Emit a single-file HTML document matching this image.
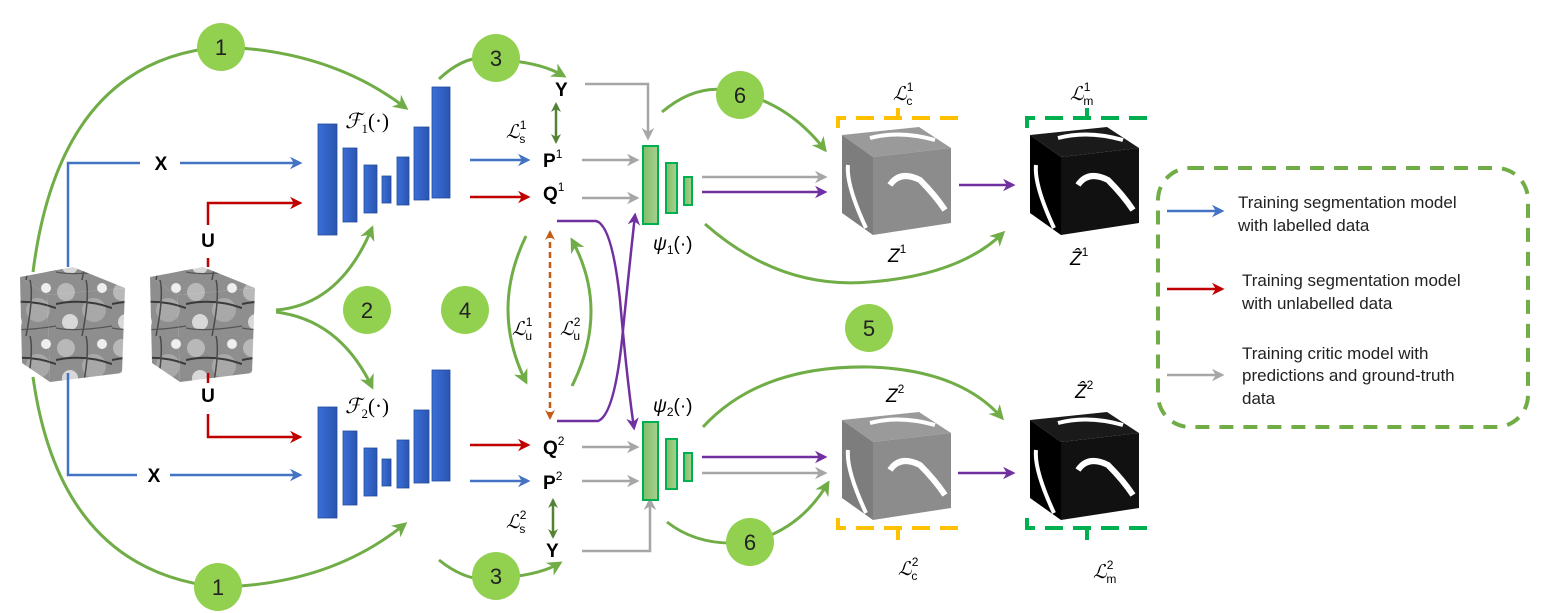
<!DOCTYPE html>
<html><head><meta charset="utf-8"><style>
html,body{margin:0;padding:0;background:#fff;}
svg{display:block;}
text{font-family:"Liberation Sans",sans-serif;}
.m{font-family:"Liberation Serif",serif;font-style:italic;}
</style></head><body>
<svg width="1557" height="613" viewBox="0 0 1557 613" xmlns="http://www.w3.org/2000/svg">
<defs>
<marker id="ag" viewBox="0 0 10 10" refX="8" refY="5" markerWidth="5" markerHeight="5" orient="auto-start-reverse"><path d="M0,0 L10,5 L0,10 L3,5z" fill="#70ad47"/></marker>
<marker id="adg" viewBox="0 0 10 10" refX="8" refY="5" markerWidth="4" markerHeight="4" orient="auto-start-reverse"><path d="M0,0 L10,5 L0,10 L3,5z" fill="#548235"/></marker>
<marker id="ab" viewBox="0 0 10 10" refX="8" refY="5" markerWidth="5" markerHeight="5" orient="auto"><path d="M0,0 L10,5 L0,10 L3,5z" fill="#4472c4"/></marker>
<marker id="ar" viewBox="0 0 10 10" refX="8" refY="5" markerWidth="5" markerHeight="5" orient="auto"><path d="M0,0 L10,5 L0,10 L3,5z" fill="#c00000"/></marker>
<marker id="ay" viewBox="0 0 10 10" refX="8" refY="5" markerWidth="5" markerHeight="5" orient="auto"><path d="M0,0 L10,5 L0,10 L3,5z" fill="#a6a6a6"/></marker>
<marker id="ap" viewBox="0 0 10 10" refX="8" refY="5" markerWidth="5" markerHeight="5" orient="auto"><path d="M0,0 L10,5 L0,10 L3,5z" fill="#7030a0"/></marker>
<marker id="ao" viewBox="0 0 10 10" refX="8" refY="5" markerWidth="4" markerHeight="4" orient="auto-start-reverse"><path d="M0,0 L10,5 L0,10 L3,5z" fill="#c55a11"/></marker>
<pattern id="ct" width="56" height="56" patternUnits="userSpaceOnUse">
<rect width="56" height="56" fill="#8e8e8e"/>
<circle cx="10" cy="12" r="9" fill="#b8b8b8"/><circle cx="38" cy="30" r="12" fill="#a8a8a8"/>
<circle cx="14" cy="42" r="8" fill="#d8d8d8"/><path d="M0 24 Q28 18 56 28" stroke="#3a3a3a" stroke-width="2" fill="none"/>
<path d="M30 0 Q34 16 26 56" stroke="#4a4a4a" stroke-width="1.5" fill="none"/><circle cx="46" cy="8" r="5" fill="#eee"/>
<path d="M0 48 Q20 52 56 46" stroke="#555" stroke-width="1.2" fill="none"/>
</pattern>
<linearGradient id="bb" x1="0" x2="1"><stop offset="0" stop-color="#3a6fd8"/><stop offset="1" stop-color="#2a55b0"/></linearGradient>
<linearGradient id="gg" x1="0" x2="1"><stop offset="0" stop-color="#7fbf6a"/><stop offset="1" stop-color="#a9d08e"/></linearGradient>
</defs>

<!-- CT cubes -->
<g>
<polygon points="20,277 73,267 125,288 47,295" fill="url(#ct)"/>
<polygon points="20,277 47,295 50,382 22,363" fill="url(#ct)"/>
<polygon points="47,295 125,288 122,373 50,382" fill="url(#ct)"/>
</g>
<g transform="translate(130,0)">
<polygon points="20,277 73,267 125,288 47,295" fill="url(#ct)"/>
<polygon points="20,277 47,295 50,382 22,363" fill="url(#ct)"/>
<polygon points="47,295 125,288 122,373 50,382" fill="url(#ct)"/>
</g>

<!-- green big arcs -->
<g fill="none" stroke="#70ad47" stroke-width="3">
<path d="M33,272 Q60,60 221,47 Q330,50 406,108" marker-end="url(#ag)"/>
<path d="M33,377 Q60,570 218,587 Q330,585 405,524" marker-end="url(#ag)"/>
<path d="M276,310 Q340,305 372,228" marker-end="url(#ag)"/>
<path d="M276,312 Q340,320 372,387" marker-end="url(#ag)"/>
<path d="M439,79 Q470,50 500,60 Q540,62 564,76" marker-end="url(#ag)"/>
<path d="M439,560 Q470,585 500,578 Q540,575 560,563" marker-end="url(#ag)"/>
<path d="M526,236 Q490,310 526,382" marker-end="url(#ag)"/>
<path d="M572,386 Q610,310 572,240" marker-end="url(#ag)"/>
<path d="M662,112 Q700,80 740,93 Q790,105 825,150" marker-end="url(#ag)"/>
<path d="M705,224 Q780,290 870,282 Q960,275 1003,233" marker-end="url(#ag)"/>
<path d="M703,427 Q760,365 870,367 Q960,370 1002,418" marker-end="url(#ag)"/>
<path d="M667,522 Q700,548 750,542 Q800,530 828,483" marker-end="url(#ag)"/>
</g>

<!-- blue/red input lines -->
<g fill="none" stroke-width="2.5">
<path d="M68,267 V163 H140" stroke="#4472c4"/><path d="M180,163 H300" stroke="#4472c4" marker-end="url(#ab)"/>
<path d="M68,373 V475 H137" stroke="#4472c4"/><path d="M170,475 H300" stroke="#4472c4" marker-end="url(#ab)"/>
<path d="M208,267 V258" stroke="#c00000"/><path d="M208,225 V203 H300" stroke="#c00000" marker-end="url(#ar)"/>
<path d="M208,373 V383" stroke="#c00000"/><path d="M208,414 V437 H300" stroke="#c00000" marker-end="url(#ar)"/>
<path d="M470,160 H528" stroke="#4472c4" marker-end="url(#ab)"/>
<path d="M470,197 H528" stroke="#c00000" marker-end="url(#ar)"/>
<path d="M470,445 H528" stroke="#c00000" marker-end="url(#ar)"/>
<path d="M470,481 H528" stroke="#4472c4" marker-end="url(#ab)"/>
</g>
<g font-weight="bold" font-size="19" fill="#000" text-anchor="middle">
<text x="161" y="170">X</text><text x="208" y="247">U</text>
<text x="208" y="402">U</text><text x="154" y="482">X</text>
</g>

<!-- F networks -->
<g id="F1">
<g fill="url(#bb)" stroke="#234a99" stroke-width="0.8">
<rect x="318" y="124" width="19" height="111"/><rect x="343" y="148" width="14" height="74"/>
<rect x="364" y="165" width="13" height="48"/><rect x="382" y="176" width="9" height="27"/>
<rect x="397" y="157" width="12" height="48"/><rect x="414" y="127" width="15" height="73"/>
<rect x="432" y="87" width="18" height="111"/>
</g></g>
<use href="#F1" transform="translate(0,283)"/>
<text x="345" y="128" class="m" font-size="21">ℱ<tspan font-size="13" dy="5" font-style="normal">1</tspan><tspan dy="-5" font-style="normal">(·)</tspan></text>
<text x="345" y="413" class="m" font-size="21">ℱ<tspan font-size="13" dy="5" font-style="normal">2</tspan><tspan dy="-5" font-style="normal">(·)</tspan></text>

<!-- Y P Q labels -->
<g font-weight="bold" font-size="19" fill="#000">
<text x="555" y="96">Y</text>
<text x="543" y="167">P<tspan font-size="12" font-weight="normal" dy="-9">1</tspan></text>
<text x="543" y="200">Q<tspan font-size="12" font-weight="normal" dy="-9">1</tspan></text>
<text x="543" y="454">Q<tspan font-size="12" font-weight="normal" dy="-9">2</tspan></text>
<text x="543" y="489">P<tspan font-size="12" font-weight="normal" dy="-9">2</tspan></text>
<text x="546" y="557">Y</text>
</g>
<g class="m" font-size="19" fill="#000">
<text x="506" y="138">ℒ<tspan font-size="12" font-style="normal" dy="-9">1</tspan><tspan font-size="12" font-style="normal" dx="-7" dy="14">s</tspan></text>
<text x="506" y="528">ℒ<tspan font-size="12" font-style="normal" dy="-9">2</tspan><tspan font-size="12" font-style="normal" dx="-7" dy="14">s</tspan></text>
<text x="512" y="335">ℒ<tspan font-size="12" font-style="normal" dy="-9">1</tspan><tspan font-size="12" font-style="normal" dx="-7" dy="14">u</tspan></text>
<text x="560" y="335">ℒ<tspan font-size="12" font-style="normal" dy="-9">2</tspan><tspan font-size="12" font-style="normal" dx="-7" dy="14">u</tspan></text>
<text x="893" y="100">ℒ<tspan font-size="12" font-style="normal" dy="-9">1</tspan><tspan font-size="12" font-style="normal" dx="-7" dy="14">c</tspan></text>
<text x="1070" y="100">ℒ<tspan font-size="12" font-style="normal" dy="-9">1</tspan><tspan font-size="12" font-style="normal" dx="-7" dy="14">m</tspan></text>
<text x="898" y="575">ℒ<tspan font-size="12" font-style="normal" dy="-9">2</tspan><tspan font-size="12" font-style="normal" dx="-7" dy="14">c</tspan></text>
<text x="1093" y="578">ℒ<tspan font-size="12" font-style="normal" dy="-9">2</tspan><tspan font-size="12" font-style="normal" dx="-7" dy="14">m</tspan></text>
<text x="888" y="262">Z<tspan font-size="12" font-style="normal" dy="-9">1</tspan></text>
<text x="1070" y="265">Ẑ<tspan font-size="12" font-style="normal" dy="-9">1</tspan></text>
<text x="886" y="402">Z<tspan font-size="12" font-style="normal" dy="-9">2</tspan></text>
<text x="1075" y="398">Ẑ<tspan font-size="12" font-style="normal" dy="-9">2</tspan></text>
<text x="653" y="250">ψ<tspan font-size="12" font-style="normal" dy="4">1</tspan><tspan font-style="normal" dy="-4">(·)</tspan></text>
<text x="653" y="412">ψ<tspan font-size="12" font-style="normal" dy="4">2</tspan><tspan font-style="normal" dy="-4">(·)</tspan></text>
</g>

<!-- Ls arrows, orange dashed -->
<path d="M556,104 V142" stroke="#548235" stroke-width="2.5" marker-start="url(#adg)" marker-end="url(#adg)"/>
<path d="M553,500 V537" stroke="#548235" stroke-width="2.5" marker-start="url(#adg)" marker-end="url(#adg)"/>
<path d="M550,232 V418" stroke="#c55a11" stroke-width="2.5" stroke-dasharray="6,4" marker-start="url(#ao)" marker-end="url(#ao)"/>

<!-- gray arrows -->
<g fill="none" stroke="#a6a6a6" stroke-width="2.5">
<path d="M585,84 H648 V138" marker-end="url(#ay)"/>
<path d="M582,160 H637" marker-end="url(#ay)"/>
<path d="M582,198 H637" marker-end="url(#ay)"/>
<path d="M582,447 H637" marker-end="url(#ay)"/>
<path d="M582,481 H637" marker-end="url(#ay)"/>
<path d="M582,551 H650 V500" marker-end="url(#ay)"/>
<path d="M702,177 H825" marker-end="url(#ay)"/>
<path d="M702,473 H825" marker-end="url(#ay)"/>
</g>
<g fill="none" stroke="#7030a0" stroke-width="2.5">
<path d="M557,221 H596 Q612,225 620,300 Q627,380 634,428" marker-end="url(#ap)"/>
<path d="M557,421 H598 Q614,415 622,340 Q630,260 635,215" marker-end="url(#ap)"/>
<path d="M702,192 H825" marker-end="url(#ap)"/>
<path d="M702,457 H825" marker-end="url(#ap)"/>
<path d="M959,185 H1013" marker-end="url(#ap)"/>
<path d="M958,473 H1013" marker-end="url(#ap)"/>
</g>

<!-- psi networks -->
<g id="psi" fill="url(#gg)" stroke="#00b050" stroke-width="2">
<rect x="643" y="146" width="15" height="78"/><rect x="666" y="163" width="11" height="50"/><rect x="684" y="177" width="8" height="28"/>
</g>
<use href="#psi" transform="translate(0,276)"/>

<!-- output cubes -->
<g id="gc">
<polygon points="842,135 919,127 951,148 873,157" fill="#9a9a9a"/>
<polygon points="842,135 873,157 873,235 842,213" fill="#7d7d7d"/>
<polygon points="873,157 951,148 951,223 873,235" fill="#8c8c8c"/>
<path d="M870,138 Q900,130 935,140" stroke="#fff" stroke-width="4" fill="none"/>
<path d="M848,165 Q846,185 866,228" stroke="#fff" stroke-width="4" fill="none"/>
<path d="M890,185 Q900,170 920,180 Q935,195 945,210" stroke="#fff" stroke-width="6" fill="none"/>
</g>
<g transform="translate(0,285)">
<polygon points="842,135 919,127 951,148 873,157" fill="#9a9a9a"/>
<polygon points="842,135 873,157 873,235 842,213" fill="#7d7d7d"/>
<polygon points="873,157 951,148 951,223 873,235" fill="#8c8c8c"/>
<path d="M870,138 Q900,130 935,140" stroke="#fff" stroke-width="4" fill="none"/>
<path d="M848,165 Q846,185 866,228" stroke="#fff" stroke-width="4" fill="none"/>
<path d="M890,185 Q900,170 920,180 Q935,195 945,210" stroke="#fff" stroke-width="6" fill="none"/>
</g>
<g transform="translate(188,0)">
<polygon points="842,135 919,127 951,148 873,157" fill="#1a1a1a"/>
<polygon points="842,135 873,157 873,235 842,213" fill="#000"/>
<polygon points="873,157 951,148 951,223 873,235" fill="#111"/>
<path d="M870,138 Q900,130 935,140" stroke="#fff" stroke-width="4" fill="none"/>
<path d="M848,165 Q846,185 866,228" stroke="#fff" stroke-width="4" fill="none"/>
<path d="M890,185 Q900,170 920,180 Q935,195 945,210" stroke="#fff" stroke-width="6" fill="none"/>
</g>
<g transform="translate(188,285)">
<polygon points="842,135 919,127 951,148 873,157" fill="#1a1a1a"/>
<polygon points="842,135 873,157 873,235 842,213" fill="#000"/>
<polygon points="873,157 951,148 951,223 873,235" fill="#111"/>
<path d="M870,138 Q900,130 935,140" stroke="#fff" stroke-width="4" fill="none"/>
<path d="M848,165 Q846,185 866,228" stroke="#fff" stroke-width="4" fill="none"/>
<path d="M890,185 Q900,170 920,180 Q935,195 945,210" stroke="#fff" stroke-width="6" fill="none"/>
</g>

<!-- brackets -->
<g fill="none" stroke-width="4" stroke-dasharray="18,10">
<path d="M838,128 V118 H958 V128" stroke="#ffc000"/>
<path d="M1027,128 V118 H1147 V128" stroke="#00b050"/>
<path d="M838,518 V528 H958 V518" stroke="#ffc000"/>
<path d="M1027,518 V528 H1147 V518" stroke="#00b050"/>
</g>
<g stroke-width="4"><path d="M898,118 V108" stroke="#ffc000"/><path d="M1087,118 V108" stroke="#00b050"/>
<path d="M898,528 V540" stroke="#ffc000"/><path d="M1087,528 V540" stroke="#00b050"/></g>

<!-- numbered circles -->
<g fill="#92d050">
<circle cx="221" cy="47" r="24"/><circle cx="218" cy="587" r="24"/>
<circle cx="367" cy="310" r="24"/><circle cx="465" cy="310" r="24"/>
<circle cx="496" cy="58" r="24"/><circle cx="496" cy="576" r="24"/>
<circle cx="740" cy="95" r="24"/><circle cx="750" cy="542" r="24"/>
<circle cx="869" cy="328" r="24"/>
</g>
<g font-size="22" text-anchor="middle" fill="#222">
<text x="221" y="55">1</text><text x="218" y="595">1</text>
<text x="367" y="318">2</text><text x="465" y="318">4</text>
<text x="496" y="66">3</text><text x="496" y="584">3</text>
<text x="740" y="103">6</text><text x="750" y="550">6</text>
<text x="869" y="336">5</text>
</g>

<!-- legend -->
<rect x="1158" y="168" width="370" height="259" rx="32" fill="none" stroke="#70ad47" stroke-width="4" stroke-dasharray="14,10"/>
<path d="M1167,211 H1222" stroke="#4472c4" stroke-width="2.5" marker-end="url(#ab)"/>
<path d="M1167,289 H1222" stroke="#c00000" stroke-width="2.5" marker-end="url(#ar)"/>
<path d="M1167,375 H1222" stroke="#a6a6a6" stroke-width="2.5" marker-end="url(#ay)"/>
<g font-size="17" fill="#222">
<text x="1238" y="208">Training segmentation model</text>
<text x="1238" y="231">with labelled data</text>
<text x="1242" y="286">Training segmentation model</text>
<text x="1242" y="309">with unlabelled data</text>
<text x="1242" y="359">Training critic model with</text>
<text x="1242" y="381">predictions and ground-truth</text>
<text x="1242" y="404">data</text>
</g>
</svg>
</body></html>
